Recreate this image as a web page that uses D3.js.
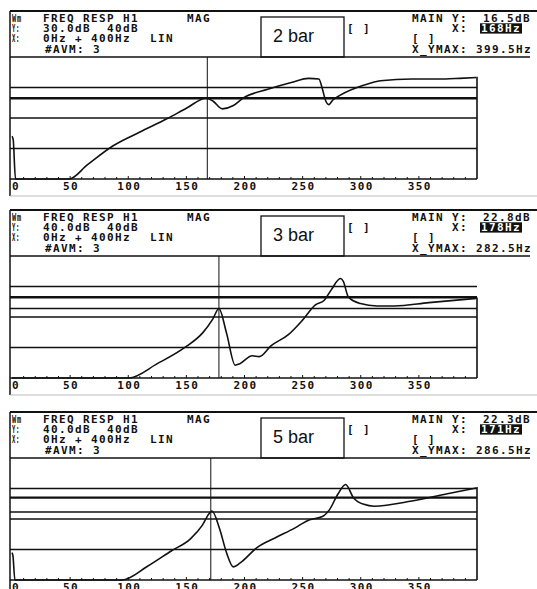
<!DOCTYPE html>
<html>
<head>
<meta charset="utf-8">
<script src="https://cdn.jsdelivr.net/npm/d3@7"></script>
<style>
    body { margin: 0; background: #fff; }
    text { font-family: "DejaVu Sans Mono", monospace; font-weight: bold; font-size: 11px; letter-spacing: 1.38px; fill: #111; }
    text.box { font-family: "Liberation Sans", Arial, sans-serif; font-weight: normal; font-size: 18px; letter-spacing: 0; }
</style>
</head>
<body>
<svg id="chart" width="537" height="589"></svg>
<script>
const boxLabels = ["2 bar", "3 bar", "5 bar"];
const yTopDb = [30, 40, 40];            // "Y: 30.0dB 40dB" -> top level, 40 dB range
const cursorHz = [168, 178, 171];
const cursorDb = ["16.5dB", "22.8dB", "22.3dB"];
const ymaxHz = ["399.5Hz", "282.5Hz", "286.5Hz"];
const yTopLabel = ["30.0dB", "40.0dB", "40.0dB"];

// horizontal level lines drawn on each plot (dB); thick = marked level
const levels1 = [20, 16.5, 10, 0];
const levels2 = [30, 26.5, 22.8, 20, 10];
const levels3 = [30, 27, 22.3, 20, 10];
const thickLevel = [16.5, 26.5, 27];

// traces (Hz, dB); values below the scale are clipped to the bottom
const hz1 = [0, 1, 3, 49, 65, 87, 110, 134, 150, 167, 173, 181, 190, 199, 220, 241, 255, 264, 267, 269.5, 272.5, 276, 282, 303, 317, 344, 373, 385, 399.5];
const db1 = [4, 3, -15, -10, -5.3, 0.9, 5.4, 9.9, 13.2, 16.5, 15.5, 13.0, 14.0, 16.6, 19.4, 21.7, 23.0, 22.8, 19.5, 16, 14.4, 15.9, 17.4, 20.8, 22.2, 22.8, 22.8, 23.0, 23.3];

const hz2 = [0, 100.4, 125, 149, 164, 172.7, 178, 184.5, 192, 196, 206.6, 212.6, 223, 238, 249.5, 261, 268.6, 274.6, 282.5, 285, 289.3, 299.7, 314, 329, 358.6, 399.5];
const db2 = [-15, 0, 4.7, 10.1, 14.8, 19.3, 22.8, 14.8, 4.2, 4.7, 7.3, 7.0, 10.6, 14.3, 18.8, 24, 25.5, 28.9, 32.6, 31.7, 26.6, 24.4, 23.6, 23.6, 24.7, 26.1];

const hz3 = [0, 0.8, 2.5, 94.5, 116.6, 137.3, 153.5, 163.8, 169.8, 172, 178.5, 184.5, 190.4, 196.3, 211, 225.8, 243.5, 255.5, 267, 273, 280.4, 287, 293.7, 302.6, 311.5, 344, 373.5, 399.5];
const db3 = [9, 8, -15, 0, 4.5, 9.6, 13.5, 18, 21.9, 22.6, 16.9, 9, 4.3, 5.6, 10.7, 13.7, 17.1, 19.7, 20.8, 23, 28.2, 31.3, 27, 24.8, 24.2, 25.9, 28.2, 30.2];

const xTicks = [0, 50, 100, 150, 200, 250, 300, 350];

const traces = [[hz1, db1], [hz2, db2], [hz3, db3]];
const levels = [levels1, levels2, levels3];
const panelTop = [11, 210, 412];

const svg = d3.select("#chart");
const x = d3.scaleLinear().domain([0, 400]).range([12, 477]);

function drawPanel(i) {
    const T = panelTop[i];
    const hb = T + 46;      // header bottom = plot top
    const pb = T + 168;     // plot bottom
    const y = d3.scaleLinear().domain([yTopDb[i] - 40, yTopDb[i]]).range([pb, hb]).clamp(true);
    const g = svg.append("g");
    const line = (x1, y1, x2, y2, w, c) => g.append("line")
        .attr("x1", x1).attr("y1", y1).attr("x2", x2).attr("y2", y2)
        .attr("stroke", c || "#111").attr("stroke-width", w);

    // frame
    line(10, T, 537, T, 2);
    line(10, T, 10, pb + 17, 1.5);
    line(10, hb, 530, hb, 1.5);
    line(10, pb + 17, 537, pb + 17, 1, "#bbb");

    // header, left block
    const row = k => T + 10.8 + k * 10.3;
    const narrow = (s, k, w) => g.append("text").attr("x", 12).attr("y", row(k))
        .attr("textLength", w).attr("lengthAdjust", "spacingAndGlyphs").text(s);
    narrow("Wm", 0, 10);
    narrow("Y:", 1, 8);
    narrow("X:", 2, 8);
    g.append("text").attr("x", 43).attr("y", row(0)).text("FREQ RESP H1");
    g.append("text").attr("x", 187).attr("y", row(0)).text("MAG");
    g.append("text").attr("x", 43).attr("y", row(1)).text(yTopLabel[i]);
    g.append("text").attr("x", 107).attr("y", row(1)).text("40dB");
    g.append("text").attr("x", 43).attr("y", row(2)).text("0Hz + 400Hz");
    g.append("text").attr("x", 150).attr("y", row(2)).text("LIN");
    g.append("text").attr("x", 45).attr("y", row(3)).text("#AVM: 3");

    // pressure box
    g.append("rect").attr("x", 261).attr("y", T + 6).attr("width", 83).attr("height", hb - T - 6)
        .attr("fill", "none").attr("stroke", "#111").attr("stroke-width", 1.3);
    g.append("text").classed("box", true).attr("x", 273).attr("y", T + 31).text(boxLabels[i]);
    g.append("text").attr("x", 347).attr("y", row(1)).text("[ ]");

    // header, right block
    g.append("text").attr("x", 412).attr("y", row(0)).text("MAIN Y:");
    g.append("text").attr("x", 531).attr("y", row(0)).attr("text-anchor", "end").text(cursorDb[i]);
    g.append("text").attr("x", 452).attr("y", row(1)).text("X:");
    g.append("rect").attr("x", 480).attr("y", row(1) - 8.8).attr("width", 42).attr("height", 10.3).attr("fill", "#111");
    g.append("text").attr("x", 481).attr("y", row(1)).style("fill", "#fff").text(cursorHz[i] + "Hz");
    g.append("text").attr("x", 412).attr("y", row(2)).text("[ ]");
    g.append("text").attr("x", 412).attr("y", row(3)).text("X_YMAX: " + ymaxHz[i]);

    // level lines
    g.selectAll("line.level").data(levels[i]).join("line").classed("level", true)
        .attr("x1", 10).attr("x2", x(400))
        .attr("y1", d => y(d)).attr("y2", d => y(d))
        .attr("stroke", "#111")
        .attr("stroke-width", d => d === thickLevel[i] ? 2.4 : 1.6);

    // cursor
    line(x(cursorHz[i]), hb, x(cursorHz[i]), pb, 1);

    // x axis
    line(10, pb, x(400), pb, 1.5);
    g.selectAll("line.tick").data(d3.range(10, 400, 10)).join("line").classed("tick", true)
        .attr("x1", d => x(d)).attr("x2", d => x(d))
        .attr("y1", pb).attr("y2", d => d % 50 === 0 ? pb - 3 : pb - 2)
        .attr("stroke", "#111").attr("stroke-width", 1);
    g.selectAll("text.xl").data(xTicks).join("text").classed("xl", true)
        .attr("x", d => d === 0 ? 12 : x(d) + 1)
        .attr("y", pb + 11)
        .attr("text-anchor", d => d === 0 ? "start" : "middle")
        .text(d => d);

    // trace
    const pts = traces[i][0].map((h, k) => [h, traces[i][1][k]]);
    g.append("path")
        .attr("d", d3.line().x(d => x(d[0])).y(d => y(d[1])).curve(d3.curveMonotoneX)(pts))
        .attr("fill", "none").attr("stroke", "#111").attr("stroke-width", 1.6);
    const last = pts[pts.length - 1];
    g.append("path")
        .attr("d", d3.line()([[x(last[0]), y(last[1])], [x(400), y(last[1])], [x(400), pb]]))
        .attr("fill", "none").attr("stroke", "#111").attr("stroke-width", 1.6);
}

[0, 1, 2].forEach(drawPanel);
</script>
</body>
</html>
